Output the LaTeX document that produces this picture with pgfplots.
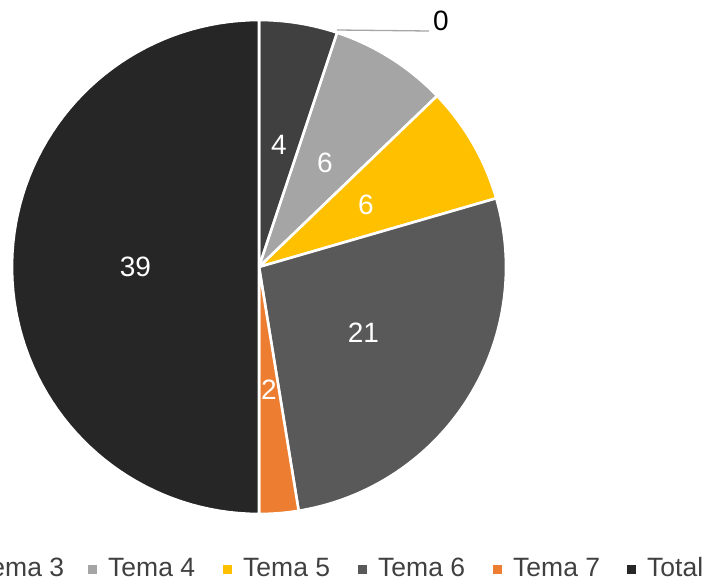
\documentclass[border=0pt]{standalone}
\usepackage{fontspec}
\setmainfont{Liberation Sans}
\usepackage{pgfplots}
\pgfplotsset{compat=1.18}

\definecolor{cTwo}{HTML}{404040}
\definecolor{cThree}{HTML}{7F7F7F}
\definecolor{cFour}{HTML}{A5A5A5}
\definecolor{cFive}{HTML}{FFC000}
\definecolor{cSix}{HTML}{595959}
\definecolor{cSeven}{HTML}{ED7D31}
\definecolor{cTotal}{HTML}{262626}
\definecolor{legtext}{HTML}{404040}
\definecolor{leader}{HTML}{A6A6A6}

% pie centre and radius (axis units = pt)
\def\cx{259}
\def\cy{315}
\def\R{247}
\def\tot{78}

% #1 = sum of the values before, #2 = value, #3 = colour
\newcommand\pieslice[3]{%
  \addplot[fill=#3, draw=white, line width=2.6pt, line join=round,
    domain={90-360*(#1+#2)/\tot}:{90-360*(#1)/\tot}, samples=80, variable=\t]
    ({\cx+\R*cos(\t)}, {\cy+\R*sin(\t)}) -- (axis cs:\cx,\cy) -- cycle;
}
% #1 = sum before, #2 = value
\newcommand\pielabel[2]{%
  \node[text=white, font=\fontsize{28}{32}\selectfont, inner sep=0pt]
    at (axis cs:{\cx+0.5*\R*cos(90-360*(#1+#2/2)/\tot)},{\cy+0.5*\R*sin(90-360*(#1+#2/2)/\tot)}) {#2};
}
% #1 = x of marker, #2 = colour, #3 = text
\newcommand\legentry[3]{%
  \fill[#2] (axis cs:#1,8.5) rectangle (axis cs:{#1+9},17.5);
  \node[anchor=base west, inner sep=0pt, text=legtext, font=\fontsize{26.5}{30}\selectfont]
    at (axis cs:{#1+20},5.3) {#3};
}

\begin{document}
\begin{tikzpicture}
\begin{axis}[
  at={(0,0)}, anchor=south west,
  scale only axis,
  width=705pt, height=582pt,
  xmin=0, xmax=705, ymin=0, ymax=582,
  hide axis,
  clip=false,
]
\pieslice{0}{4}{cTwo}
\pieslice{4}{6}{cFour}
\pieslice{10}{6}{cFive}
\pieslice{16}{21}{cSix}
\pieslice{37}{2}{cSeven}
\pieslice{39}{39}{cTotal}

\pielabel{0}{4}
\pielabel{4}{6}
\pielabel{10}{6}
\pielabel{16}{21}
\pielabel{37}{2}
\pielabel{39}{39}

% the zero slice: label with leader line
\draw[leader, line width=1.3pt] (axis cs:337,552) -- (axis cs:429,551);
\node[anchor=west, inner sep=0pt, font=\fontsize{28}{32}\selectfont] at (axis cs:433,561) {0};

\legentry{-43}{cThree}{Tema 3}
\legentry{88}{cFour}{Tema 4}
\legentry{223}{cFive}{Tema 5}
\legentry{358}{cSix}{Tema 6}
\legentry{493}{cSeven}{Tema 7}
\legentry{627}{cTotal}{Total}
\end{axis}
\pgfresetboundingbox
\useasboundingbox (0,0) rectangle (705pt,582pt);
\end{tikzpicture}
\end{document}
